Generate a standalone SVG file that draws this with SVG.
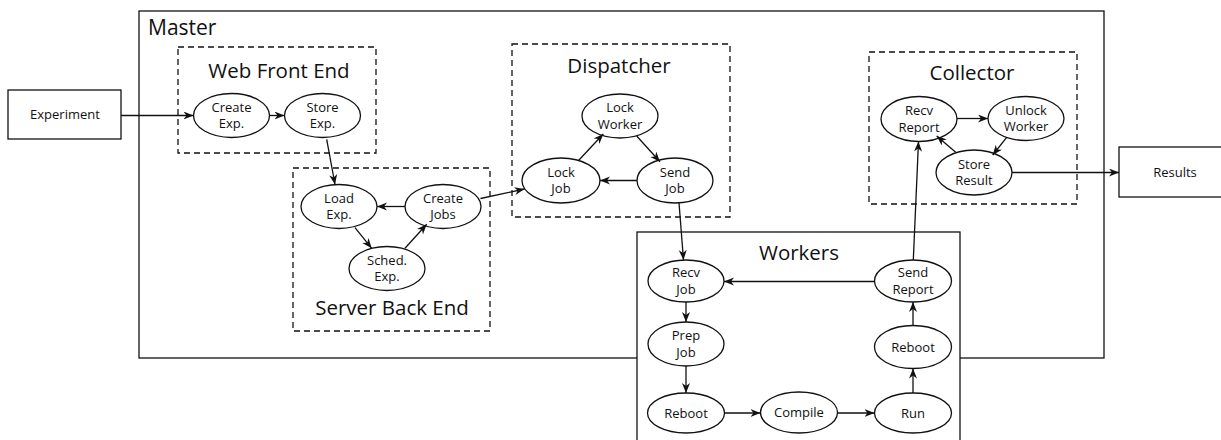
<svg xmlns="http://www.w3.org/2000/svg" width="1221" height="440" viewBox="0 0 1221 440">
<defs>
<style>
text{font-family:"Open Sans","Noto Sans","DejaVu Sans",sans-serif;fill:#111;text-anchor:middle}
.lbl{font-size:13px}
.ttl{font-size:20.5px}
.box{fill:#fff;stroke:#111;stroke-width:1.3}
.dash{fill:none;stroke:#111;stroke-width:1.3;stroke-dasharray:6,4}
.node{fill:#fff;stroke:#111;stroke-width:1.3}
.edge{fill:none;stroke:#111;stroke-width:1.3;marker-end:url(#arr)}
</style>
<marker id="arr" markerUnits="userSpaceOnUse" markerWidth="12" markerHeight="10" refX="10" refY="4" orient="auto">
<path d="M0,0 L10,4 L0,8 L3,4 z" fill="#111"/>
</marker>
</defs>
<rect width="1221" height="440" fill="#fff"/>

<g id="master">
<rect class="box" x="139" y="11" width="965" height="347"/>
<text class="ttl" x="148" y="35" style="text-anchor:start;font-size:21px">Master</text>
</g>

<g id="webfrontend">
<rect class="dash" x="178" y="47" width="198" height="106"/>
<text class="ttl" x="279" y="78">Web Front End</text>
</g>
<g id="serverbackend">
<rect class="dash" x="293" y="168" width="197" height="163"/>
<text class="ttl" x="392" y="315">Server Back End</text>
</g>
<g id="dispatcher">
<rect class="dash" x="512" y="44" width="218" height="173"/>
<text class="ttl" x="619" y="73">Dispatcher</text>
</g>
<g id="collector">
<rect class="dash" x="869" y="52" width="208" height="152"/>
<text class="ttl" x="972" y="80">Collector</text>
</g>

<g id="workers">
<rect class="box" x="637" y="232" width="323" height="220"/>
<text class="ttl" x="799" y="260">Workers</text>
</g>

<g id="experiment">
<rect class="box" x="8" y="90" width="113" height="49"/>
<text class="lbl" x="65" y="119">Experiment</text>
</g>
<g id="results">
<rect class="box" x="1119" y="147" width="104" height="50"/>
<text class="lbl" x="1175" y="177">Results</text>
</g>

<g id="create-exp"><ellipse class="node" cx="231.5" cy="115.5" rx="38" ry="22"/><text class="lbl" x="231.5" y="111.5">Create</text><text class="lbl" x="231.5" y="128">Exp.</text></g>
<g id="store-exp"><ellipse class="node" cx="322.5" cy="115.5" rx="38" ry="22"/><text class="lbl" x="322.5" y="111.5">Store</text><text class="lbl" x="322.5" y="128">Exp.</text></g>

<g id="load-exp"><ellipse class="node" cx="339" cy="206.5" rx="38" ry="22"/><text class="lbl" x="339" y="202.5">Load</text><text class="lbl" x="339" y="219">Exp.</text></g>
<g id="create-jobs"><ellipse class="node" cx="443" cy="206.5" rx="38" ry="22"/><text class="lbl" x="443" y="202.5">Create</text><text class="lbl" x="443" y="219">Jobs</text></g>
<g id="sched-exp"><ellipse class="node" cx="387" cy="268.5" rx="38" ry="22"/><text class="lbl" x="387" y="264.5">Sched.</text><text class="lbl" x="387" y="281">Exp.</text></g>

<g id="lock-worker"><ellipse class="node" cx="620" cy="116" rx="38" ry="22"/><text class="lbl" x="620" y="112">Lock</text><text class="lbl" x="620" y="128.5">Worker</text></g>
<g id="lock-job"><ellipse class="node" cx="561" cy="180.5" rx="39" ry="22.5"/><text class="lbl" x="561" y="176.5">Lock</text><text class="lbl" x="561" y="193">Job</text></g>
<g id="send-job"><ellipse class="node" cx="675" cy="180.5" rx="38" ry="22.5"/><text class="lbl" x="675" y="176.5">Send</text><text class="lbl" x="675" y="193">Job</text></g>

<g id="recv-report"><ellipse class="node" cx="919" cy="119" rx="38" ry="22.5"/><text class="lbl" x="919" y="115">Recv</text><text class="lbl" x="919" y="131.5">Report</text></g>
<g id="unlock-worker"><ellipse class="node" cx="1026" cy="118.5" rx="38" ry="22"/><text class="lbl" x="1026" y="114.5">Unlock</text><text class="lbl" x="1026" y="131">Worker</text></g>
<g id="store-result"><ellipse class="node" cx="974" cy="172.5" rx="38" ry="22.5"/><text class="lbl" x="974" y="168.5">Store</text><text class="lbl" x="974" y="185">Result</text></g>

<g id="recv-job"><ellipse class="node" cx="686" cy="281" rx="38" ry="21"/><text class="lbl" x="686" y="277">Recv</text><text class="lbl" x="686" y="293.5">Job</text></g>
<g id="prep-job"><ellipse class="node" cx="686" cy="344" rx="38" ry="22"/><text class="lbl" x="686" y="340">Prep</text><text class="lbl" x="686" y="356.5">Job</text></g>
<g id="reboot1"><ellipse class="node" cx="686" cy="413" rx="38.5" ry="20"/><text class="lbl" x="686" y="418">Reboot</text></g>
<g id="compile"><ellipse class="node" cx="799" cy="412.5" rx="38.5" ry="20.5"/><text class="lbl" x="799" y="417">Compile</text></g>
<g id="run"><ellipse class="node" cx="913" cy="413" rx="38.5" ry="20"/><text class="lbl" x="913" y="418">Run</text></g>
<g id="reboot2"><ellipse class="node" cx="913" cy="347" rx="38.5" ry="21.5"/><text class="lbl" x="913" y="352">Reboot</text></g>
<g id="send-report"><ellipse class="node" cx="913" cy="281" rx="38.5" ry="21"/><text class="lbl" x="913" y="277">Send</text><text class="lbl" x="913" y="293.5">Report</text></g>

<g id="connectors">
<line class="edge" x1="121" y1="115.5" x2="193.5" y2="115.5"/>
<line class="edge" x1="269.5" y1="115.5" x2="284.5" y2="115.5"/>
<line class="edge" x1="326.7" y1="139.3" x2="335" y2="184.5"/>
<line class="edge" x1="405" y1="206.5" x2="377" y2="206.5"/>
<line class="edge" x1="355" y1="227.7" x2="371.7" y2="248.3"/>
<line class="edge" x1="405" y1="248.3" x2="426.7" y2="224.3"/>
<line class="edge" x1="480.5" y1="198.5" x2="524.5" y2="189"/>
<line class="edge" x1="578.3" y1="160.7" x2="603.3" y2="134"/>
<line class="edge" x1="636.7" y1="136" x2="660" y2="161.7"/>
<line class="edge" x1="637" y1="180.5" x2="600" y2="180.5"/>
<line class="edge" x1="679" y1="202.7" x2="683.5" y2="260"/>
<line class="edge" x1="874.5" y1="281.5" x2="724" y2="281.5"/>
<line class="edge" x1="913.3" y1="260" x2="918.5" y2="141.5"/>
<line class="edge" x1="957" y1="118.5" x2="988" y2="118.5"/>
<line class="edge" x1="1006.7" y1="137.3" x2="992.7" y2="155"/>
<line class="edge" x1="955.7" y1="152.3" x2="936.7" y2="136"/>
<line class="edge" x1="1012" y1="172.5" x2="1119" y2="172.5"/>
<line class="edge" x1="686" y1="302" x2="686" y2="322"/>
<line class="edge" x1="686" y1="366" x2="686" y2="393"/>
<line class="edge" x1="724.5" y1="413" x2="760.5" y2="413"/>
<line class="edge" x1="837.5" y1="413" x2="874.5" y2="413"/>
<line class="edge" x1="913" y1="393" x2="913" y2="368.5"/>
<line class="edge" x1="913" y1="325.5" x2="913" y2="302"/>
</g>
</svg>
